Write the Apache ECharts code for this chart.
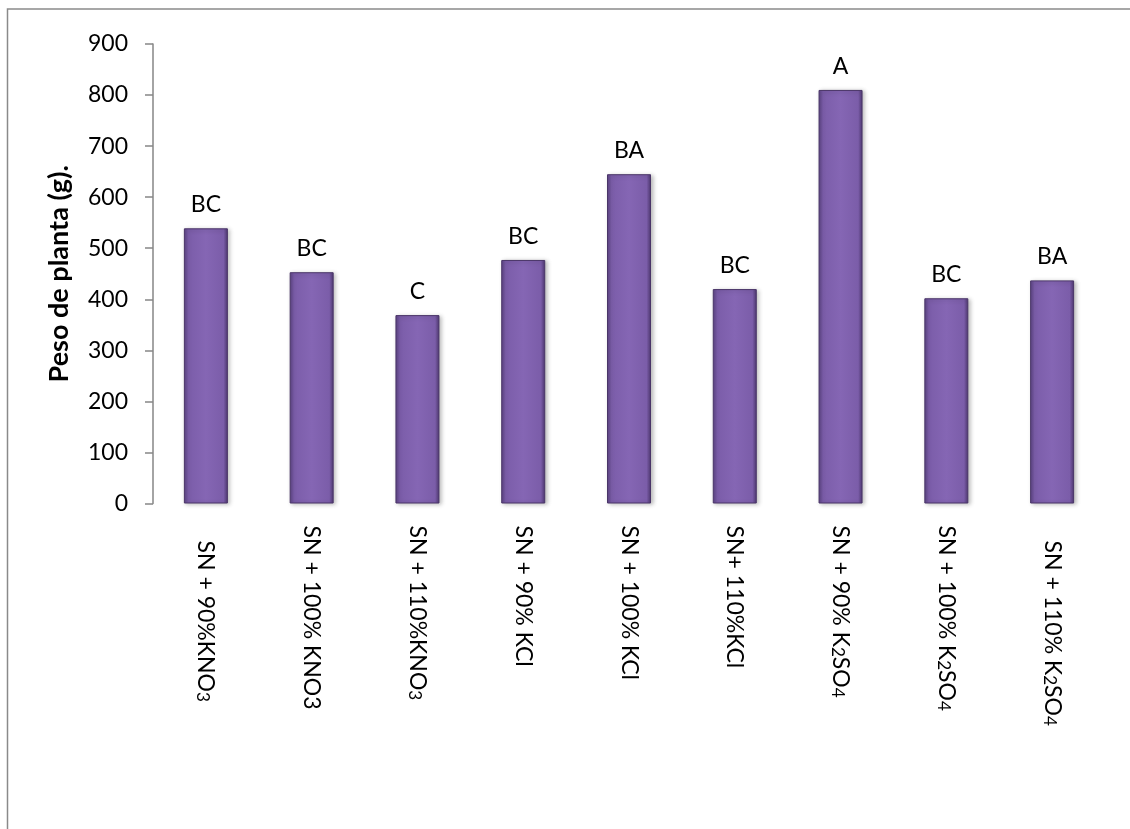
<!DOCTYPE html>
<html>
<head>
<meta charset="utf-8">
<script src="https://cdn.jsdelivr.net/npm/echarts@6/dist/echarts.min.js"></script>
<style>
html,body{margin:0;padding:0;background:#fff;}
#c{width:1130px;height:829px;}
</style>
</head>
<body>
<div id="c"></div>
<script>
const categories = ["SN + 90%KNO₃", "SN + 100% KNO3", "SN + 110%KNO₃", "SN + 90% KCl", "SN + 100% KCl", "SN+ 110%KCl", "SN + 90% K₂SO₄", "SN + 100% K₂SO₄", "SN + 110% K₂SO₄"];
const values = [539, 453, 369, 477, 645, 420, 810, 402, 437];
const letters = ["BC", "BC", "C", "BC", "BA", "BC", "A", "BC", "BA"];
const yTicks = [0, 100, 200, 300, 400, 500, 600, 700, 800, 900];
const labelShift = [15, 0, 0, 0, 0, 0, 0, 0, 15];

const FONT = "Lato, 'Open Sans', sans-serif";
const chart = echarts.init(document.getElementById('c'), null, {renderer: 'canvas'});

const barColor = new echarts.graphic.LinearGradient(0, 0, 1, 0, [
  {offset: 0, color: '#5a4281'},
  {offset: 0.1, color: '#7b5da9'},
  {offset: 0.5, color: '#8566b4'},
  {offset: 0.9, color: '#7b5da9'},
  {offset: 1, color: '#4d376f'}
]);

function subFmt(v) {
  return '{n|' + v.replace(/[\u2080-\u2089]/g, ch => '}{s|' + (ch.charCodeAt(0) - 0x2080) + '}{n|') + '}';
}

chart.setOption({
  animation: false,
  backgroundColor: '#ffffff',
  graphic: [{
    type: 'rect',
    shape: {x: 7.5, y: 9, width: 1300, height: 1000},
    style: {fill: 'none', stroke: '#8a8a8a', lineWidth: 1.5},
    silent: true, z: 0
  }],
  grid: {left: 153, right: 25, top: 44, bottom: 325.5, containLabel: false},
  xAxis: {
    type: 'category',
    data: categories.map((c, i) => ({value: c, textStyle: {padding: [0, 0, 0, labelShift[i]]}})),
    axisLine: {show: false},
    axisTick: {show: false},
    axisLabel: {
      rotate: -90, margin: 22, color: '#000', fontSize: 23, fontFamily: FONT, interval: 0,
      formatter: subFmt,
      rich: {
        n: {fontSize: 23, fontFamily: FONT, color: '#000'},
        s: {fontSize: 17, fontFamily: FONT, color: '#000', verticalAlign: 'bottom', padding: [6, 0, 0, 0]}
      }
    }
  },
  yAxis: {
    type: 'value',
    min: yTicks[0], max: yTicks[yTicks.length - 1], interval: yTicks[1] - yTicks[0],
    name: 'Peso de planta (g).',
    nameLocation: 'middle',
    nameGap: 80,
    nameRotate: 90,
    nameTextStyle: {color: '#000', fontSize: 27, fontWeight: 'bold', fontFamily: FONT},
    axisLine: {show: true, lineStyle: {color: '#868686', width: 1.5}},
    axisTick: {show: true, length: 8, lineStyle: {color: '#868686', width: 1.5}},
    axisLabel: {color: '#000', fontSize: 23, fontFamily: FONT, margin: 25},
    splitLine: {show: false}
  },
  series: [{
    type: 'bar',
    data: values,
    barWidth: 44,
    itemStyle: {
      color: barColor,
      borderColor: '#4a3568',
      borderWidth: 1,
      shadowColor: 'rgba(0,0,0,0.25)',
      shadowBlur: 4,
      shadowOffsetX: 2,
      shadowOffsetY: 1
    },
    label: {
      show: true,
      position: 'top',
      distance: 12,
      color: '#000',
      fontSize: 23,
      fontFamily: FONT,
      formatter: p => letters[p.dataIndex]
    }
  }]
});
</script>
</body>
</html>
